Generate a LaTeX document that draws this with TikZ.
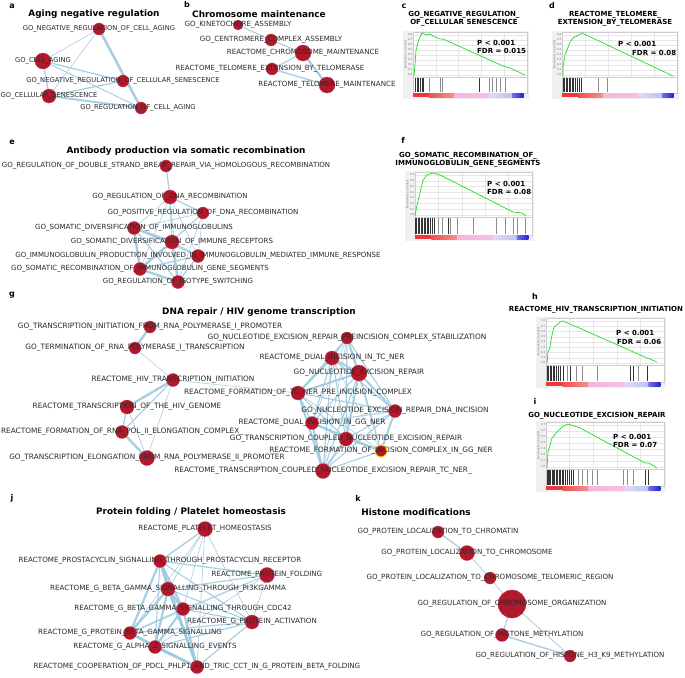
\documentclass[tikz,border=0pt]{standalone}
\usepackage{fontspec}
\setmainfont{DejaVu Sans}
\definecolor{nodered}{HTML}{B2182B}
\definecolor{edgeblue}{HTML}{9ECAE1}
\definecolor{labelgray}{HTML}{2A2A2A}
\definecolor{curvegreen}{HTML}{22DD22}
\definecolor{bggray}{HTML}{F0F0F0}
\definecolor{gridgray}{HTML}{E6E6E6}
\definecolor{framegray}{HTML}{CCCCCC}
\definecolor{br1}{HTML}{E8383C}
\definecolor{br2}{HTML}{F05050}
\definecolor{br3}{HTML}{F59090}
\definecolor{bp1}{HTML}{F7B4DC}
\definecolor{bp2}{HTML}{F4C0E6}
\definecolor{bl1}{HTML}{DCDCF8}
\definecolor{bl2}{HTML}{C0C0F2}
\definecolor{bb1}{HTML}{7070EA}
\definecolor{bb2}{HTML}{2020D8}
\newcommand\gseaplot[6]{%
  \pgfmathsetmacro\gW{#2-#1}%
  \fill[bggray] ({#1-10},{#3-1}) rectangle ({#2+2},{#5+6});
  \fill[white] (#1,#3) rectangle (#2,#5);
  \pgfmathsetmacro\gZ{#4-2}%
  \pgfmathsetmacro\gS{(#4-2-(#3+3))/#6}%
  \foreach \k in {0,...,#6}{%
    \pgfmathsetmacro\gy{\gZ-\k*\gS}%
    \draw[gridgray,line width=0.3] (#1,\gy) -- (#2,\gy);
    \node[tick,anchor=east] at ({#1-0.6},\gy) {0.\k};
  }
  \foreach \f in {0.2,0.4,0.6,0.8}{\draw[gridgray,line width=0.3] ({#1+\f*\gW},#3) -- ({#1+\f*\gW},#4);}
  \draw[framegray,line width=0.4] (#1,#3) rectangle (#2,#4);
  \draw[framegray,line width=0.4] (#1,#4) rectangle (#2,#5);
  \node[tick,rotate=90] at ({#1-7.5},{(#3+#4)/2}) {Enrichment score (ES)};
  \fill[br1] (#1,#5) rectangle ({#1+0.14*\gW},{#5+4});
  \shade[left color=br2,right color=br3] ({#1+0.14*\gW},#5) rectangle ({#1+0.36*\gW},{#5+4});
  \shade[left color=bp1,right color=bp2] ({#1+0.36*\gW},#5) rectangle ({#1+0.67*\gW},{#5+4});
  \shade[left color=bl1,right color=bl2] ({#1+0.67*\gW},#5) rectangle ({#1+0.87*\gW},{#5+4});
  \shade[left color=bb1,right color=bb2] ({#1+0.87*\gW},#5) rectangle ({#1+0.97*\gW},{#5+4});
}
\newcommand\gseahits[4]{%
  \foreach \x in {#3}{\draw[black!80,line width=0.45] (\x,{#1+1}) -- (\x,{#2-1});}
  \foreach \x in {#4}{\draw[black!45,line width=0.45] (\x,{#1+1}) -- (\x,{#2-1});}
}
\def\lblsz{7}
\begin{document}
\begin{tikzpicture}[x=1pt,y=-1pt,
  nd/.style={circle,fill=nodered,draw=nodered!85!white,line width=0.3,inner sep=0,minimum size=#1},
  nd/.default=12,
  lbl/.style={inner sep=0,font=\fontsize{\lblsz}{7}\selectfont,text=labelgray},
  ttl/.style={inner sep=0,font=\fontsize{8.9}{10}\selectfont\bfseries},
  letter/.style={inner sep=0,font=\fontsize{8}{9}\selectfont\bfseries},
  gtitle/.style={inner sep=0,align=center,font=\fontsize{7}{8.2}\selectfont\bfseries},
  stat/.style={inner sep=0,anchor=west,font=\fontsize{7}{8}\selectfont\bfseries},
  tick/.style={inner sep=0,font=\fontsize{2.6}{3}\selectfont,text=black!60},
  edge/.style={draw=edgeblue,opacity=0.9},
  curve/.style={draw=curvegreen,line width=0.7,line join=round}]
\useasboundingbox (0,0) rectangle (685,677);
\fill[white] (0,0) rectangle (685,677);

% ---------------- panel a
\def\lblsz{6.75}
\node[letter] (La) at (12,6) {a};
\node[ttl] (Ta) at (94,14) {Aging negative regulation};
\coordinate (a1) at (99,29);
\coordinate (a2) at (43,61);
\coordinate (a3) at (123,81);
\coordinate (a4) at (49,96);
\coordinate (a5) at (141,108);
\foreach \p/\q/\w in {a1/a2/0.6,a1/a4/0.6,a1/a5/2.6,a2/a3/1.3,a2/a5/1.0,a2/a4/1.3,a4/a3/1.2,a4/a5/2.0}
  \draw[edge,line width=\w] (\p) -- (\q);
\node[nd=12] (a1c) at (a1) {};
\node[nd=16] (a2c) at (a2) {};
\node[nd=12] (a3c) at (a3) {};
\node[nd=14] (a4c) at (a4) {};
\node[nd=12] (a5c) at (a5) {};
\node[lbl] (a1t) at (a1) {GO\_NEGATIVE\_REGULATION\_OF\_CELL\_AGING};
\node[lbl] (a2t) at (a2) {GO\_CELL\_AGING};
\node[lbl] (a3t) at (a3) {GO\_NEGATIVE\_REGULATION\_OF\_CELLULAR\_SENESCENCE};
\node[lbl] (a4t) at (a4) {GO\_CELLULAR\_SENESCENCE};
\node[lbl] (a5t) at ([xshift=-3]a5) {GO\_REGULATION\_OF\_CELL\_AGING};

% ---------------- panel b
\def\lblsz{7.1}
\node[letter] (Lb) at (187,5) {b};
\node[ttl] (Tb) at (259,14) {Chromosome maintenance};
\coordinate (b1) at (238,25);
\coordinate (b2) at (271,40);
\coordinate (b3) at (303,53);
\coordinate (b4) at (272,69);
\coordinate (b5) at (327,85);
\foreach \p/\q/\w in {b1/b2/1.1,b2/b3/1.1,b3/b4/1.1,b3/b5/2.2,b4/b5/1.3}
  \draw[edge,line width=\w] (\p) -- (\q);
\node[nd=10] (b1c) at (b1) {};
\node[nd=12] (b2c) at (b2) {};
\node[nd=16] (b3c) at (b3) {};
\node[nd=12] (b4c) at (b4) {};
\node[nd=16] (b5c) at (b5) {};
\node[lbl] (b1t) at (b1) {GO\_KINETOCHORE\_ASSEMBLY};
\node[lbl] (b2t) at (b2) {GO\_CENTROMERE\_COMPLEX\_ASSEMBLY};
\node[lbl] (b3t) at (b3) {REACTOME\_CHROMOSOME\_MAINTENANCE};
\node[lbl] (b4t) at ([xshift=-2]b4) {REACTOME\_TELOMERE\_EXTENSION\_BY\_TELOMERASE};
\node[lbl] (b5t) at (b5) {REACTOME\_TELOMERE\_MAINTENANCE};

% ---------------- panel c
\node[letter] (Lc) at (404,6) {c};
\node[gtitle] (Tc) at (464,19) {GO\_NEGATIVE\_REGULATION\_\\OF\_CELLULAR SENESCENCE};
\gseaplot{413}{527}{32}{77}{93}{8}
\gseahits{77}{93}{415,417,418,420,422,423,479}{429,440,442,489,492,496,500,505}
\draw[curve] (414,76) -- (415,65) -- (416,50) -- (417,47) -- (418,42) -- (420,37) -- (422,33) -- (427,35) -- (430,34) -- (433,36) -- (440,39) -- (443,39) -- (503,66) -- (510,68) -- (525,75);
\node[stat] (Pc) at (477,43) {P < 0.001};
\node[stat] (Fc) at (477,51) {FDR = 0.015};

% ---------------- panel d
\node[letter] (Ld) at (552,6) {d};
\node[gtitle] (Td) at (615,19) {REACTOME\_TELOMERE\_\\EXTENSION\_BY\_TELOMERASE};
\gseaplot{562}{677}{32}{77}{93}{8}
\gseahits{77}{93}{563,564.5,566,567.5,569,570.5,572,573.5,575,577,579,581}{598,607}
\draw[curve] (563,76) -- (563,67) -- (565,55) -- (567,50) -- (570,42) -- (573,38) -- (577,36) -- (582,33) -- (673,76);
\node[stat] (Pd) at (618,44) {P < 0.001};
\node[stat] (Fd) at (632,53) {FDR = 0.08};

% ---------------- panel e
\def\lblsz{7.05}
\node[letter] (Le) at (12,142) {e};
\node[ttl] (Te) at (186,151) {Antibody production via somatic recombination};
\coordinate (e1) at (166,166);
\coordinate (e2) at (170,197);
\coordinate (e3) at (203,213);
\coordinate (e4) at (134,228);
\coordinate (e5) at (172,242);
\coordinate (e6) at (198,256);
\coordinate (e7) at (140,269);
\coordinate (e8) at (178,282);
\foreach \p/\q/\w in {e1/e2/1.3,e2/e3/1.2,e2/e4/0.6,e2/e5/1.2,e2/e6/0.6,e2/e7/0.6,e2/e8/0.6,
  e3/e4/0.6,e3/e5/0.6,e3/e6/0.6,e3/e7/0.6,e3/e8/0.6,
  e4/e5/2.4,e4/e6/1.1,e4/e7/2.4,e4/e8/1.2,e5/e6/1.2,e5/e7/2.4,e5/e8/2.2,e6/e7/1.2,e6/e8/1.2,e7/e8/2.4}
  \draw[edge,line width=\w] (\p) -- (\q);
\node[nd=12] (e1c) at (e1) {};
\node[nd=14] (e2c) at (e2) {};
\node[nd=12] (e3c) at (e3) {};
\node[nd=13] (e4c) at (e4) {};
\node[nd=14] (e5c) at (e5) {};
\node[nd=13] (e6c) at (e6) {};
\node[nd=13] (e7c) at (e7) {};
\node[nd=13] (e8c) at (e8) {};
\node[lbl] (e1t) at (e1) {GO\_REGULATION\_OF\_DOUBLE\_STRAND\_BREAK\_REPAIR\_VIA\_HOMOLOGOUS\_RECOMBINATION};
\node[lbl] (e2t) at (e2) {GO\_REGULATION\_OF\_DNA\_RECOMBINATION};
\node[lbl] (e3t) at (e3) {GO\_POSITIVE\_REGULATION\_OF\_DNA\_RECOMBINATION};
\node[lbl] (e4t) at (e4) {GO\_SOMATIC\_DIVERSIFICATION\_OF\_IMMUNOGLOBULINS};
\node[lbl] (e5t) at (e5) {GO\_SOMATIC\_DIVERSIFICATION\_OF\_IMMUNE\_RECEPTORS};
\node[lbl] (e6t) at (e6) {GO\_IMMUNOGLOBULIN\_PRODUCTION\_INVOLVED\_IN\_IMMUNOGLOBULIN\_MEDIATED\_IMMUNE\_RESPONSE};
\node[lbl] (e7t) at (e7) {GO\_SOMATIC\_RECOMBINATION\_OF\_IMMUNOGLOBULIN\_GENE\_SEGMENTS};
\node[lbl] (e8t) at (e8) {GO\_REGULATION\_OF\_ISOTYPE\_SWITCHING};

% ---------------- panel f
\node[letter] (Lf) at (403,140) {f};
\node[gtitle] (Tf) at (468,160) {GO\_SOMATIC\_RECOMBINATION\_OF\_\\IMMUNOGLOBULIN\_GENE\_SEGMENTS};
\gseaplot{415}{532}{172}{217}{235}{7}
\gseahits{217}{235}{415,416.5,418,419.5,421,422.5,424,425.5,427,428.5,430,432,434,448}{438,442,450,457,473,496,505,513,517,525}
\draw[curve] (415,216) -- (417,205) -- (420,193) -- (423,180) -- (427,175) -- (433,173) -- (440,175) -- (450,180) -- (513,212) -- (522,213) -- (526,216);
\node[stat] (Pf) at (487,184) {P < 0.001};
\node[stat] (Ff) at (487,192) {FDR = 0.08};

% ---------------- panel g
\def\lblsz{7.35}
\node[letter] (Lg) at (12,295) {g};
\node[ttl] (Tg) at (259,312) {DNA repair / HIV genome transcription};
\coordinate (g1) at (150,327);
\coordinate (g2) at (135,348);
\coordinate (g3) at (173,380);
\coordinate (g4) at (127,407);
\coordinate (g5) at (122,432);
\coordinate (g6) at (147,458);
\coordinate (r1) at (347,338);
\coordinate (r2) at (332,358);
\coordinate (r3) at (359,373);
\coordinate (r4) at (298,393);
\coordinate (r5) at (395,411);
\coordinate (r6) at (312,423);
\coordinate (r7) at (346,439);
\coordinate (r8) at (381,451);
\coordinate (r9) at (323,471);
\foreach \p/\q/\w in {g1/g2/2.4,g2/g3/0.5,g3/g4/2.4,g3/g5/1.1,g3/g6/0.6,g4/g5/1.2,g4/g6/0.8,g5/g6/2.4,g3/r4/0.6,
  r1/r2/1.1,r1/r3/2.0,r1/r4/1.1,r1/r5/1.1,r1/r6/0.6,r1/r7/1.1,r1/r8/0.6,r1/r9/0.6,
  r2/r3/2.0,r2/r4/2.0,r2/r5/1.1,r2/r6/1.1,r2/r7/1.1,r2/r8/0.6,r2/r9/1.1,
  r3/r4/2.0,r3/r5/2.0,r3/r6/1.1,r3/r7/2.0,r3/r8/1.1,r3/r9/1.1,
  r4/r5/1.1,r4/r6/1.1,r4/r7/1.1,r4/r8/0.6,r4/r9/2.0,
  r5/r6/1.1,r5/r7/1.1,r5/r8/2.0,r5/r9/1.1,
  r6/r7/1.1,r6/r8/2.0,r6/r9/2.0,r7/r8/1.1,r7/r9/2.0,r8/r9/1.1}
  \draw[edge,line width=\w] (\p) -- (\q);
\node[nd=12] (g1c) at (g1) {};
\node[nd=12] (g2c) at (g2) {};
\node[nd=13] (g3c) at (g3) {};
\node[nd=14] (g4c) at (g4) {};
\node[nd=13] (g5c) at (g5) {};
\node[nd=15] (g6c) at (g6) {};
\node[nd=12] (r1c) at (r1) {};
\node[nd=14] (r2c) at (r2) {};
\node[nd=16] (r3c) at (r3) {};
\node[nd=14] (r4c) at (r4) {};
\node[nd=13] (r5c) at (r5) {};
\node[nd=13] (r6c) at (r6) {};
\node[nd=14] (r7c) at (r7) {};
\node[nd=12,draw=yellow!80!orange,line width=1] (r8c) at (r8) {};
\node[nd=15] (r9c) at (r9) {};
\node[lbl] (g1t) at (g1) {GO\_TRANSCRIPTION\_INITIATION\_FROM\_RNA\_POLYMERASE\_I\_PROMOTER};
\node[lbl] (g2t) at (g2) {GO\_TERMINATION\_OF\_RNA\_POLYMERASE\_I\_TRANSCRIPTION};
\node[lbl] (g3t) at (g3) {REACTOME\_HIV\_TRANSCRIPTION\_INITIATION};
\node[lbl] (g4t) at (g4) {REACTOME\_TRANSCRIPTION\_OF\_THE\_HIV\_GENOME};
\node[lbl] (g5t) at (g5) {REACTOME\_FORMATION\_OF\_RNA\_POL\_II\_ELONGATION\_COMPLEX\_};
\node[lbl] (g6t) at (g6) {GO\_TRANSCRIPTION\_ELONGATION\_FROM\_RNA\_POLYMERASE\_II\_PROMOTER};
\node[lbl] (r1t) at (r1) {GO\_NUCLEOTIDE\_EXCISION\_REPAIR\_PREINCISION\_COMPLEX\_STABILIZATION};
\node[lbl] (r2t) at (r2) {REACTOME\_DUAL\_INCISION\_IN\_TC\_NER};
\node[lbl] (r3t) at (r3) {GO\_NUCLEOTIDE\_EXCISION\_REPAIR};
\node[lbl] (r4t) at (r4) {REACTOME\_FORMATION\_OF\_TC\_NER\_PRE\_INCISION\_COMPLEX};
\node[lbl] (r5t) at (r5) {GO\_NUCLEOTIDE\_EXCISION\_REPAIR\_DNA\_INCISION};
\node[lbl] (r6t) at (r6) {REACTOME\_DUAL\_INCISION\_IN\_GG\_NER};
\node[lbl] (r7t) at (r7) {GO\_TRANSCRIPTION\_COUPLED\_NUCLEOTIDE\_EXCISION\_REPAIR};
\node[lbl] (r8t) at (r8) {REACTOME\_FORMATION\_OF\_INCISION\_COMPLEX\_IN\_GG\_NER};
\node[lbl] (r9t) at (r9) {REACTOME\_TRANSCRIPTION\_COUPLED\_NUCLEOTIDE\_EXCISION\_REPAIR\_TC\_NER\_};

% ---------------- panel h
\node[letter] (Lh) at (535,296) {h};
\node[gtitle] (Th) at (596,310) {REACTOME\_HIV\_TRANSCRIPTION\_INITIATION};
\gseaplot{546}{664}{318}{365}{382}{8}
\gseahits{365}{382}{547,548.5,550,551.5,553,554.5,556,558,560,563,570,630,633,647}{567,576,582,597,638}
\draw[curve] (547,363) -- (548,352) -- (550,347) -- (552,335) -- (554,327) -- (558,324) -- (560,322) -- (563,321) -- (570,324) -- (577,327) -- (647,358) -- (650,359) -- (657,362);
\node[stat] (Ph) at (616,333) {P < 0.001};
\node[stat] (Fh) at (617,342) {FDR = 0.06};

% ---------------- panel i
\node[letter] (Li) at (535,401) {i};
\node[gtitle] (Ti) at (597,416) {GO\_NUCLEOTIDE\_EXCISION\_REPAIR};
\gseaplot{546}{664}{422}{469}{486}{7}
\gseahits{469}{486}{547,548,549.3,550.5,552,553,554.5,556,557.5,559,560.5,562,563.5,565,567,569,571,573,645,648}{578,582,587,592,597,623,627,633}
\draw[curve] (547,468) -- (548,452) -- (552,438) -- (557,432) -- (563,426) -- (568,424) -- (580,428) -- (645,463) -- (649,463) -- (657,468);
\node[stat] (Pi) at (613,437) {P < 0.001};
\node[stat] (Fi) at (613,445) {FDR = 0.07};

% ---------------- panel j
\def\lblsz{7.15}
\node[letter] (Lj) at (12,498) {j};
\node[ttl] (Tj) at (191,512) {Protein folding / Platelet homeostasis};
\coordinate (j1) at (205,529);
\coordinate (j2) at (160,561);
\coordinate (j3) at (267,575);
\coordinate (j4) at (168,589);
\coordinate (j5) at (183,609);
\coordinate (j6) at (252,622);
\coordinate (j7) at (130,633);
\coordinate (j8) at (155,647);
\coordinate (j9) at (197,667);
\foreach \p/\q/\w in {j1/j2/1.3,j1/j4/0.6,j1/j5/0.6,j1/j7/0.6,j1/j9/0.6,j1/j6/0.6,
  j2/j3/1.2,j2/j4/2.4,j2/j5/2.2,j2/j6/1.1,j2/j7/2.2,j2/j8/1.1,j2/j9/2.2,
  j3/j4/1.1,j3/j5/0.6,j3/j6/0.6,j3/j7/0.6,j3/j8/0.6,
  j4/j5/2.4,j4/j6/1.1,j4/j7/2.2,j4/j8/2.2,j4/j9/2.2,
  j5/j6/1.1,j5/j7/1.2,j5/j8/2.2,j5/j9/2.2,
  j6/j7/1.1,j6/j8/1.1,j6/j9/1.2,j7/j8/2.2,j7/j9/2.2,j8/j9/2.4}
  \draw[edge,line width=\w] (\p) -- (\q);
\node[nd=15] (j1c) at (j1) {};
\node[nd=13] (j2c) at (j2) {};
\node[nd=15] (j3c) at (j3) {};
\node[nd=14] (j4c) at (j4) {};
\node[nd=13] (j5c) at (j5) {};
\node[nd=14] (j6c) at (j6) {};
\node[nd=13] (j7c) at (j7) {};
\node[nd=13] (j8c) at (j8) {};
\node[nd=13] (j9c) at (j9) {};
\node[lbl] (j1t) at (j1) {REACTOME\_PLATELET\_HOMEOSTASIS};
\node[lbl] (j2t) at (j2) {REACTOME\_PROSTACYCLIN\_SIGNALLING\_THROUGH\_PROSTACYCLIN\_RECEPTOR};
\node[lbl] (j3t) at (j3) {REACTOME\_PROTEIN\_FOLDING};
\node[lbl] (j4t) at (j4) {REACTOME\_G\_BETA\_GAMMA\_SIGNALLING\_THROUGH\_PI3KGAMMA};
\node[lbl] (j5t) at (j5) {REACTOME\_G\_BETA\_GAMMA\_SIGNALLING\_THROUGH\_CDC42};
\node[lbl] (j6t) at (j6) {REACTOME\_G\_PROTEIN\_ACTIVATION};
\node[lbl] (j7t) at (j7) {REACTOME\_G\_PROTEIN\_BETA\_GAMMA\_SIGNALLING};
\node[lbl] (j8t) at (j8) {REACTOME\_G\_ALPHA\_Z\_SIGNALLING\_EVENTS};
\node[lbl] (j9t) at (j9) {REACTOME\_COOPERATION\_OF\_PDCL\_PHLP1\_AND\_TRIC\_CCT\_IN\_G\_PROTEIN\_BETA\_FOLDING};

% ---------------- panel k
\def\lblsz{7.1}
\node[letter] (Lk) at (358,498) {k};
\node[ttl] (Tk) at (416,512) {Histone modifications};
\coordinate (k1) at (438,532);
\coordinate (k2) at (467,553);
\coordinate (k3) at (490,578);
\coordinate (k4) at (512,604);
\coordinate (k5) at (502,635);
\coordinate (k6) at (570,656);
\foreach \p/\q/\w in {k1/k2/1.3,k2/k3/0.7,k3/k4/0.7,k4/k5/1.0,k4/k6/0.8,k5/k6/1.4}
  \draw[edge,line width=\w] (\p) -- (\q);
\node[nd=12] (k1c) at (k1) {};
\node[nd=15] (k2c) at (k2) {};
\node[nd=12] (k3c) at (k3) {};
\node[nd=28] (k4c) at (k4) {};
\node[nd=13] (k5c) at (k5) {};
\node[nd=12] (k6c) at (k6) {};
\node[lbl] (k1t) at (k1) {GO\_PROTEIN\_LOCALIZATION\_TO\_CHROMATIN};
\node[lbl] (k2t) at (k2) {GO\_PROTEIN\_LOCALIZATION\_TO\_CHROMOSOME};
\node[lbl] (k3t) at (k3) {GO\_PROTEIN\_LOCALIZATION\_TO\_CHROMOSOME\_TELOMERIC\_REGION};
\node[lbl] (k4t) at (k4) {GO\_REGULATION\_OF\_CHROMOSOME\_ORGANIZATION};
\node[lbl] (k5t) at (k5) {GO\_REGULATION\_OF\_HISTONE\_METHYLATION};
\node[lbl] (k6t) at (k6) {GO\_REGULATION\_OF\_HISTONE\_H3\_K9\_METHYLATION};
\end{tikzpicture}
\end{document}
